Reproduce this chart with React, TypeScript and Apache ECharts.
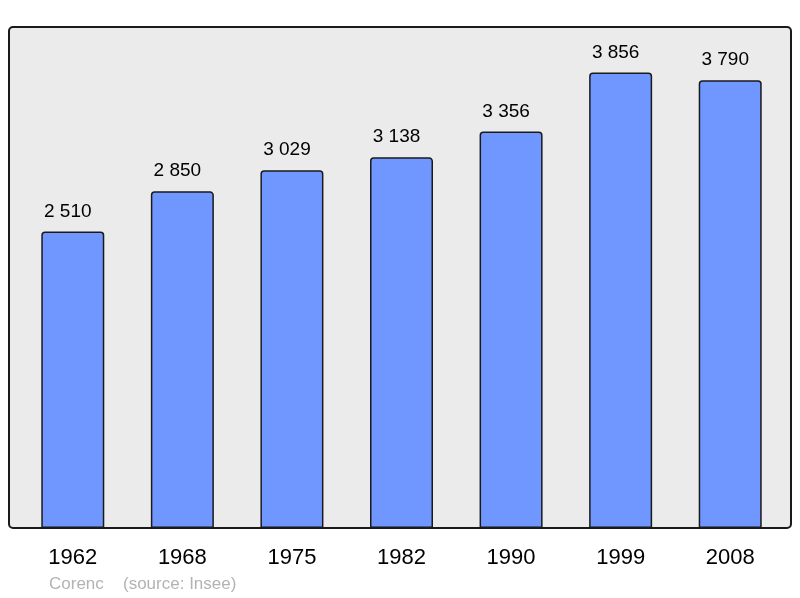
import React, { useEffect, useRef } from "react";
import * as echarts from "echarts";

const years = ["1962", "1968", "1975", "1982", "1990", "1999", "2008"];
const population = [2510, 2850, 3029, 3138, 3356, 3856, 3790];
const townName = "Corenc";
const sourceText = "(source: Insee)";

const fmt = (v: number) => {
  const s = String(v);
  return s.length > 3 ? s.slice(0, s.length - 3) + " " + s.slice(-3) : s;
};

export default function App() {
  const ref = useRef<HTMLDivElement>(null);
  useEffect(() => {
    if (!ref.current) return;
    const chart = echarts.init(ref.current, null, { renderer: "svg" });
    const maxVal = Math.max(...population) * 1.1;
    chart.setOption({
      animation: false,
      grid: { left: 18, right: 15, top: 27, bottom: 70, containLabel: false },
      xAxis: {
        type: "category",
        data: years,
        axisLine: { show: false },
        axisTick: { show: false },
        axisLabel: {
          color: "#000",
          fontSize: 22,
          fontFamily: "Liberation Sans, Arial, sans-serif",
          margin: 17,
        },
      },
      yAxis: {
        type: "value",
        min: 0,
        max: maxVal,
        show: false,
        splitLine: { show: false },
      },
      graphic: [
        {
          type: "rect",
          z: -10,
          silent: true,
          shape: { x: 9, y: 27, width: 782, height: 501, r: 4 },
          style: { fill: "#ebebeb", stroke: "none" },
        },
        {
          type: "rect",
          z: 100,
          silent: true,
          shape: { x: 9, y: 27, width: 782, height: 501, r: 4 },
          style: { fill: "none", stroke: "#1a1a1a", lineWidth: 2 },
        },
        {
          type: "text",
          left: 49,
          top: 575,
          style: {
            text: townName,
            fill: "#b3b3b3",
            fontSize: 17,
            fontFamily: "Liberation Sans, Arial, sans-serif",
          },
        },
        {
          type: "text",
          left: 123,
          top: 575,
          style: {
            text: sourceText,
            fill: "#b3b3b3",
            fontSize: 17,
            fontFamily: "Liberation Sans, Arial, sans-serif",
          },
        },
      ],
      series: [
        {
          type: "bar",
          data: population,
          barWidth: 63,
          itemStyle: {
            color: "#7097ff",
            borderColor: "#1a1a1a",
            borderWidth: 1.5,
            borderRadius: [3, 3, 0, 0],
          },
          label: {
            show: true,
            position: "top",
            distance: 12,
            offset: [-5, 0],
            color: "#000",
            fontSize: 19,
            fontFamily: "Liberation Sans, Arial, sans-serif",
            formatter: (p: any) => fmt(p.value),
          },
        },
      ],
    });
    return () => chart.dispose();
  }, []);
  return (
    <div
      ref={ref}
      style={{ position: "fixed", left: 0, top: 0, width: 800, height: 598 }}
    />
  );
}
